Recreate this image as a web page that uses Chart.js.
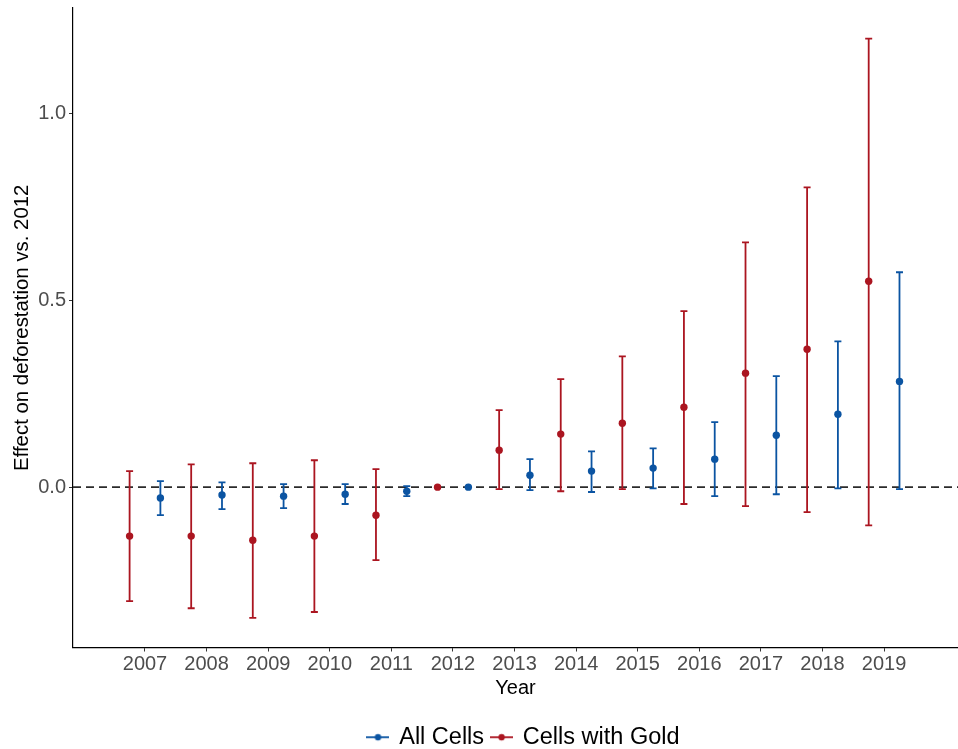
<!DOCTYPE html>
<html>
<head>
<meta charset="utf-8">
<script src="https://cdn.jsdelivr.net/npm/chart.js@4/dist/chart.umd.min.js"></script>
<style>
  html, body { margin: 0; padding: 0; background: #ffffff; overflow: hidden; }
  #wrap { width: 958px; height: 749px; position: relative; }
</style>
</head>
<body>
<div id="wrap"><canvas id="c" width="958" height="749"></canvas></div>
<script>
// ---- data ----
const years = [2007, 2008, 2009, 2010, 2011, 2012, 2013, 2014, 2015, 2016, 2017, 2018, 2019];
const yTicks = [0.0, 0.5, 1.0];

const allEst = [-0.029, -0.021, -0.024, -0.019, -0.011, 0.0, 0.032, 0.043, 0.051, 0.075, 0.139, 0.195, 0.283];
const allLo  = [-0.075, -0.059, -0.056, -0.045, -0.024, 0.0, -0.008, -0.013, -0.003, -0.024, -0.019, -0.003, -0.005];
const allHi  = [0.016, 0.013, 0.008, 0.008, 0.003, 0.0, 0.075, 0.096, 0.104, 0.174, 0.297, 0.390, 0.575];

const goldEst = [-0.131, -0.131, -0.142, -0.131, -0.075, 0.0, 0.099, 0.142, 0.171, 0.214, 0.305, 0.369, 0.551];
const goldLo  = [-0.305, -0.324, -0.350, -0.334, -0.195, 0.0, -0.005, -0.011, -0.005, -0.045, -0.051, -0.067, -0.102];
const goldHi  = [0.043, 0.061, 0.064, 0.072, 0.048, 0.0, 0.206, 0.289, 0.350, 0.471, 0.655, 0.802, 1.200];

const seriesNames = ['All Cells', 'Cells with Gold'];
const dodge = 0.25;

const BLUE = '#0B54A2';
const RED = '#AB1520';
const FONT = "'Liberation Sans', Arial, Helvetica, sans-serif";

function legendIcon(color) {
  const cv = document.createElement('canvas');
  cv.width = 23; cv.height = 10;
  const g = cv.getContext('2d');
  g.strokeStyle = color; g.lineWidth = 1.8;
  g.beginPath(); g.moveTo(0, 5); g.lineTo(23, 5); g.stroke();
  g.fillStyle = color;
  g.beginPath(); g.arc(11.5, 5, 3.2, 0, Math.PI * 2); g.fill();
  return cv;
}

const errData = [
  { lo: allLo, hi: allHi, off: dodge, color: BLUE },
  { lo: goldLo, hi: goldHi, off: -dodge, color: RED }
];

const errorBarPlugin = {
  id: 'errorBars',
  afterLayout(chart) {
    if (chart.legend) {
      chart.legend.left += 45;
      chart.legend.right += 45;
    }
  },
  beforeDatasetsDraw(chart) {
    const { ctx, chartArea, scales: { x, y } } = chart;
    ctx.save();
    const y0 = y.getPixelForValue(0);
    ctx.strokeStyle = '#2b2b2b';
    ctx.lineWidth = 1.8;
    ctx.setLineDash([8, 5]);
    ctx.beginPath();
    ctx.moveTo(chartArea.left, y0);
    ctx.lineTo(chartArea.right, y0);
    ctx.stroke();
    ctx.setLineDash([]);
    errData.forEach(s => {
      ctx.strokeStyle = s.color;
      ctx.lineWidth = 1.8;
      years.forEach((yr, i) => {
        const px = x.getPixelForValue(yr + s.off);
        const pLo = y.getPixelForValue(s.lo[i]);
        const pHi = y.getPixelForValue(s.hi[i]);
        ctx.beginPath();
        ctx.moveTo(px, pLo); ctx.lineTo(px, pHi);
        ctx.moveTo(px - 3.5, pLo); ctx.lineTo(px + 3.5, pLo);
        ctx.moveTo(px - 3.5, pHi); ctx.lineTo(px + 3.5, pHi);
        ctx.stroke();
      });
    });
    ctx.restore();
  }
};

const chart = new Chart(document.getElementById('c'), {
  type: 'scatter',
  data: {
    datasets: [
      {
        label: seriesNames[0],
        data: years.map((yr, i) => ({ x: yr + dodge, y: allEst[i] })),
        backgroundColor: BLUE, borderColor: BLUE,
        pointRadius: 3.7, pointHoverRadius: 3.7, pointBorderWidth: 0,
        pointStyle: 'circle'
      },
      {
        label: seriesNames[1],
        data: years.map((yr, i) => ({ x: yr - dodge, y: goldEst[i] })),
        backgroundColor: RED, borderColor: RED,
        pointRadius: 3.7, pointHoverRadius: 3.7, pointBorderWidth: 0,
        pointStyle: 'circle'
      }
    ]
  },
  options: {
    responsive: false,
    animation: false,
    devicePixelRatio: 1,
    layout: { autoPadding: false, padding: { top: 8, right: 0, left: 0, bottom: -10 } },
    plugins: {
      tooltip: { enabled: false },
      legend: {
        position: 'bottom',
        labels: {
          usePointStyle: true,
          pointStyleWidth: 19,
          boxHeight: 20,
          padding: 8,
          color: '#000000',
          font: { family: FONT, size: 23.5 },
          generateLabels(ch) {
            return ch.data.datasets.map((ds, i) => ({
              text: ds.label,
              pointStyle: legendIcon(ds.borderColor),
              fillStyle: ds.borderColor,
              strokeStyle: ds.borderColor,
              lineWidth: 0,
              hidden: false,
              datasetIndex: i,
              fontColor: '#000000'
            }));
          }
        }
      }
    },
    scales: {
      x: {
        type: 'linear',
        min: 2005.831,
        max: 2020.2,
        afterBuildTicks(scale) { scale.ticks = years.map(v => ({ value: v })); },
        afterFit(scale) { scale.height = 70; scale.paddingLeft = 0; scale.paddingRight = 0; },
        grid: { display: true, drawOnChartArea: false, drawTicks: true, tickLength: 4, color: '#333333' },
        border: { display: true, color: '#000000', width: 1.2 },
        ticks: {
          color: '#4D4D4D',
          font: { family: FONT, size: 20 },
          padding: 1,
          maxRotation: 0,
          autoSkip: false,
          callback: v => String(v)
        },
        title: {
          display: true,
          text: 'Year',
          color: '#000000',
          font: { family: FONT, size: 20 },
          padding: { top: 0, bottom: 17 }
        }
      },
      y: {
        type: 'linear',
        min: -0.429,
        max: 1.282,
        afterBuildTicks(scale) { scale.ticks = yTicks.map(v => ({ value: v })); },
        afterFit(scale) { scale.width = 73; scale.paddingTop = 0; scale.paddingBottom = 0; },
        grid: { display: true, drawOnChartArea: false, drawTicks: true, tickLength: 4, color: '#333333' },
        border: { display: true, color: '#000000', width: 1.2 },
        ticks: {
          color: '#4D4D4D',
          font: { family: FONT, size: 20 },
          padding: 3,
          callback: v => v.toFixed(1)
        },
        title: {
          display: true,
          text: 'Effect on deforestation vs. 2012',
          color: '#000000',
          font: { family: FONT, size: 20.4 },
          padding: { top: 10, bottom: 0 }
        }
      }
    }
  },
  plugins: [errorBarPlugin]
});
</script>
</body>
</html>
